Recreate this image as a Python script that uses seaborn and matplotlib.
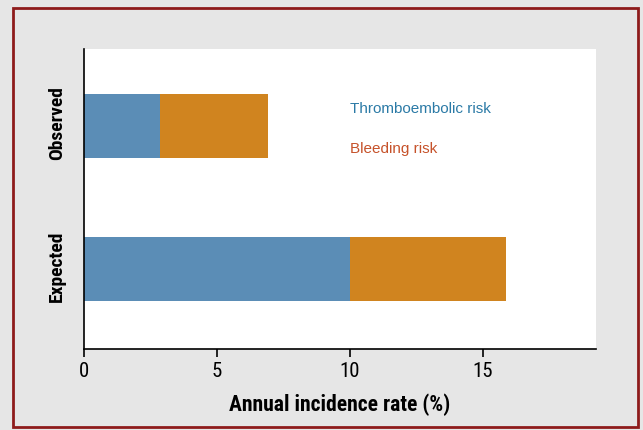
import numpy as np
import pandas as pd
import matplotlib
matplotlib.use("Agg")
import matplotlib.pyplot as plt
import matplotlib.transforms as mtransforms
import seaborn as sns
from matplotlib import font_manager
from matplotlib.patches import Rectangle

# données
groups = ["Observed", "Expected"]
thrombo = [2.85, 10.0]
bleeding = [4.05, 5.85]
x_ticks = [0, 5, 10, 15]

df = pd.DataFrame({"group": groups, "thrombo": thrombo, "bleeding": bleeding})
df["total"] = df["thrombo"] + df["bleeding"]

names = {f.name for f in font_manager.fontManager.ttflist}
narrow = [n for n in ["Liberation Sans Narrow", "Roboto Condensed",
                      "DejaVu Sans Condensed"] if n in names]

sns.set_style("white")
plt.rcParams["font.family"] = narrow[:1] + ["Liberation Sans", "DejaVu Sans"]
plt.rcParams["text.color"] = "black"
plt.rcParams["axes.labelcolor"] = "black"
plt.rcParams["xtick.color"] = "black"
plt.rcParams["ytick.color"] = "black"

blue = "#5b8db6"
orange = "#d0841f"

fig = plt.figure(figsize=(6.43, 4.31), dpi=100, facecolor="#e6e6e6")
ax = fig.add_axes([0.1306, 0.188, 0.7963, 0.696])
ax.set_facecolor("white")

# barres empilées : total (orange) puis thrombo (bleu) par-dessus
sns.barplot(data=df, y="group", x="total", color=orange, orient="h",
            width=0.45, ax=ax, saturation=1, linewidth=0)
sns.barplot(data=df, y="group", x="thrombo", color=blue, orient="h",
            width=0.45, ax=ax, saturation=1, linewidth=0)

ax.set_xlim(0, 19.25)
ax.set_ylim(1.56, -0.54)
ax.set_xticks(x_ticks)
ax.set_xticklabels([str(t) for t in x_ticks], fontsize=15)
ax.tick_params(axis="x", direction="out", length=6, width=1.2, color="black",
               bottom=True, pad=3)
ax.tick_params(axis="y", length=0, pad=13)
shift_up = mtransforms.ScaledTranslation(0, 4 / 100, fig.dpi_scale_trans)
for lab in ax.get_yticklabels():
    lab.set_rotation(90)
    lab.set_va("center")
    lab.set_fontsize(14)
    lab.set_fontweight("bold")
    lab.set_transform(lab.get_transform() + shift_up)
ax.set_ylabel("")
ax.set_xlabel("Annual incidence rate (%)", fontsize=15.6, fontweight="bold",
              labelpad=9)

for side in ["top", "right"]:
    ax.spines[side].set_visible(False)
for side in ["left", "bottom"]:
    ax.spines[side].set_color("black")
    ax.spines[side].set_linewidth(1.2)

ax.text(10, -0.13, "Thromboembolic risk", color="#2b7aa6", fontsize=11,
        family=["Liberation Sans", "DejaVu Sans"], va="center", ha="left")
ax.text(10, 0.15, "Bleeding risk", color="#c6522a", fontsize=11,
        family=["Liberation Sans", "DejaVu Sans"], va="center", ha="left")

# cadre rouge foncé autour de la figure
fig.patches.append(Rectangle((0.02, 0.008), 0.973, 0.972, transform=fig.transFigure,
                             fill=False, edgecolor="#8e1b1b", linewidth=2))

fig.savefig("out.png", dpi=100, facecolor=fig.get_facecolor())
